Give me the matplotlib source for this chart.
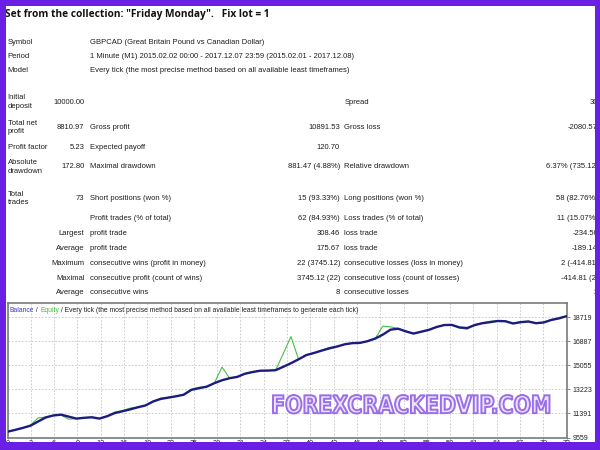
import matplotlib
matplotlib.use("Agg")
import matplotlib.pyplot as plt
import numpy as np
from matplotlib.textpath import TextPath
from matplotlib.font_manager import FontProperties
from matplotlib.patches import PathPatch, Rectangle
from matplotlib.transforms import Affine2D

# ---------------- data ----------------
trades = list(range(74))
balance = [10000, 10140, 10290, 10460, 10780, 11090, 11240, 11300, 11150, 11000,
           11060, 11100, 11000, 11180, 11420, 11560, 11700, 11860, 12000, 12300,
           12500, 12600, 12700, 12820, 13190, 13320, 13430, 13700, 13920, 14080,
           14180, 14420, 14550, 14650, 14660, 14690, 14950, 15220, 15520, 15840,
           16000, 16180, 16350, 16490, 16660, 16750, 16770, 16900, 17100, 17400,
           17780, 17850, 17650, 17480, 17620, 17760, 17980, 18130, 18140, 17950,
           17900, 18130, 18270, 18350, 18440, 18420, 18250, 18350, 18400, 18270,
           18330, 18520, 18640, 18810.97]
equity = [10000, 10140, 10290, 10500, 11050, 11120, 11240, 11260, 10950, 11000,
          11060, 11120, 11000, 11200, 11500, 11600, 11800, 11880, 12000, 12330,
          12560, 12620, 12700, 12850, 13220, 13380, 13450, 13700, 14930, 14080,
          14180, 14430, 14560, 14660, 14660, 14690, 15950, 17250, 15520, 15840,
          16000, 16200, 16420, 16490, 16660, 16760, 16770, 16900, 17100, 18050,
          17990, 17870, 17650, 17480, 17640, 17780, 17990, 18130, 18140, 17900,
          17820, 18160, 18300, 18420, 18460, 18420, 18250, 18380, 18420, 18270,
          18330, 18540, 18700, 18810.97]
x_tick_labels = [0, 3, 6, 9, 12, 16, 19, 22, 25, 28, 31, 34, 37, 40, 43, 46,
                 49, 52, 55, 58, 61, 64, 67, 70, 73]
y_ticks = [9559, 11391, 13223, 15055, 16887, 18719]
y_top = 19788

title_text = 'Set from the collection: "Friday Monday".   Fix lot = 1'
watermark = "FOREXCRACKEDVIP.COM"
chart_caption = [("Balance", "#3b3bd0"), (" / ", "#222222"), ("Equity", "#3cc43c"),
                 (" / Every tick (the most precise method based on all available "
                  "least timeframes to generate each tick)", "#222222")]

info_labels = ["Symbol", "Period", "Model"]
info_values = ["GBPCAD (Great Britain Pound vs Canadian Dollar)",
               "1 Minute (M1) 2015.02.02 00:00 - 2017.12.07 23:59 (2015.02.01 - 2017.12.08)",
               "Every tick (the most precise method based on all available least timeframes)"]

left_labels = ["Initial\ndeposit", "Total net\nprofit", "Profit factor", "Absolute\ndrawdown",
               "Total\ntrades", "", "Largest", "Average", "Maximum", "Maximal", "Average"]
left_values = ["10000.00", "8810.97", "5.23", "172.80", "73", "", "", "", "", "", ""]
mid_labels = ["", "Gross profit", "Expected payoff", "Maximal drawdown",
              "Short positions (won %)", "Profit trades (% of total)", "profit trade",
              "profit trade", "consecutive wins (profit in money)",
              "consecutive profit (count of wins)", "consecutive wins"]
mid_values = ["", "10891.53", "120.70", "881.47 (4.88%)", "15 (93.33%)", "62 (84.93%)",
              "308.46", "175.67", "22 (3745.12)", "3745.12 (22)", "8"]
right_labels = ["Spread", "Gross loss", "", "Relative drawdown", "Long positions (won %)",
                "Loss trades (% of total)", "loss trade", "loss trade",
                "consecutive losses (loss in money)", "consecutive loss (count of losses)",
                "consecutive losses"]
right_values = ["30", "-2080.57", "", "6.37% (735.12)", "58 (82.76%)", "11 (15.07%)",
                "-234.50", "-189.14", "2 (-414.81)", "-414.81 (2)", "2"]

# ---------------- layout ----------------
W, H = 600, 450
fig = plt.figure(figsize=(6, 4.5), dpi=100)
fig.patch.set_facecolor("white")

# chart axes (pixel box: x 7.5-566.7, y 303.3-437.5)
cx0, cx1, cy0, cy1 = 7.5, 566.7, 303.3, 437.5
ax = fig.add_axes([cx0 / W, 1 - cy1 / H, (cx1 - cx0) / W, (cy1 - cy0) / H])
ax.set_zorder(1)
ax.plot(trades, equity, color="#45c045", lw=0.8, zorder=3)
ax.plot(trades, balance, color="#1c1c80", lw=1.7, zorder=4, solid_capstyle="round")
ax.set_xlim(0, 73)
ax.set_ylim(y_ticks[0], y_top)
xt = np.linspace(0, 73, len(x_tick_labels))
ax.set_xticks(xt)
ax.set_xticklabels([str(v) for v in x_tick_labels])
ax.set_yticks(y_ticks)
ax.set_yticklabels([str(v) for v in y_ticks])
ax.yaxis.tick_right()
ax.tick_params(axis="y", length=2, width=0.6, color="#777777", pad=2.5,
               labelsize=5.0, labelcolor="#222222")
ax.tick_params(axis="x", length=1, width=0.6, color="#777777", pad=0.6,
               labelsize=5.2, labelcolor="#222222")
for lbl in ax.get_xticklabels() + ax.get_yticklabels():
    lbl.set_family("Liberation Sans")
ax.grid(True, color="#c4c4c4", lw=0.6, linestyle=(0, (2, 2)))
for s in ax.spines.values():
    s.set_color("#7a7a7a")
    s.set_linewidth(1.2)

# overlay axes in pixel coordinates
ov = fig.add_axes([0, 0, 1, 1])
ov.set_zorder(5)
ov.set_xlim(0, W)
ov.set_ylim(H, 0)
ov.axis("off")
ov.patch.set_visible(False)

tfont = dict(family="Liberation Sans", fontsize=5.5, color="#1e1e1e", va="center")

ov.text(5, 14.5, title_text, family="Open Sans", fontweight="bold", fontsize=7.25,
        color="#111111", va="center", ha="left")

info_y = [42.7, 56.7, 71.0]
for lab, val, y in zip(info_labels, info_values, info_y):
    ov.text(7.5, y, lab, ha="left", **tfont)
    ov.text(90, y, val, ha="left", **tfont)

row_y = [102.0, 127.5, 147.3, 167.0, 198.3, 218.3, 233.3, 248.0, 263.7, 278.3, 293.0]
right_aligned_left = {"Largest", "Average", "Maximum", "Maximal"}
for i, y in enumerate(row_y):
    lab = left_labels[i]
    if lab:
        if lab in right_aligned_left:
            ov.text(84.5, y, lab, ha="right", **tfont)
        else:
            ov.text(7.5, y, lab, ha="left", linespacing=1.25, **tfont)
    if left_values[i]:
        ov.text(84.5, y, left_values[i], ha="right", **tfont)
    if mid_labels[i]:
        ov.text(90, y, mid_labels[i], ha="left", **tfont)
    if mid_values[i]:
        ov.text(340, y, mid_values[i], ha="right", **tfont)
    if right_labels[i]:
        ov.text(344.5, y, right_labels[i], ha="left", **tfont)
    if right_values[i]:
        ov.text(598, y, right_values[i], ha="right", **tfont)

# chart caption (multi-colour)
prev = ov.text(10, 310, chart_caption[0][0], color=chart_caption[0][1],
               family="Liberation Sans", fontsize=4.9, va="center", ha="left")
for txt, col in chart_caption[1:]:
    prev = ov.annotate(txt, xy=(1, 0), xycoords=prev, va="bottom", ha="left",
                       color=col, family="Liberation Sans", fontsize=4.9)

# watermark
fp = FontProperties(family="DejaVu Sans", weight="bold")
tp = TextPath((0, 0), watermark, size=1, prop=fp)
ext = tp.get_extents()
bx0, bx1, by0, by1 = 273.0, 549.5, 395.0, 413.5
sx = (bx1 - bx0) / ext.width
sy = (by1 - by0) / ext.height
tr = Affine2D().translate(-ext.x0, -ext.y0).scale(sx, -sy).translate(bx0, by1)
wm = PathPatch(tr.transform_path(tp), facecolor="#ece3ff", edgecolor="#9a6ee8",
               lw=1.4, zorder=6)
ov.add_patch(wm)

# purple frame
pc = "#6a1fe4"
ov.add_patch(Rectangle((0, 0), W, 5.5, color=pc, zorder=10, lw=0))
ov.add_patch(Rectangle((0, 0), 6, H, color=pc, zorder=10, lw=0))
ov.add_patch(Rectangle((594.5, 0), 6, H, color=pc, zorder=10, lw=0))
ov.add_patch(Rectangle((0, 442), W, 8, color=pc, zorder=10, lw=0))

fig.savefig("out.png", dpi=100, facecolor="white")
